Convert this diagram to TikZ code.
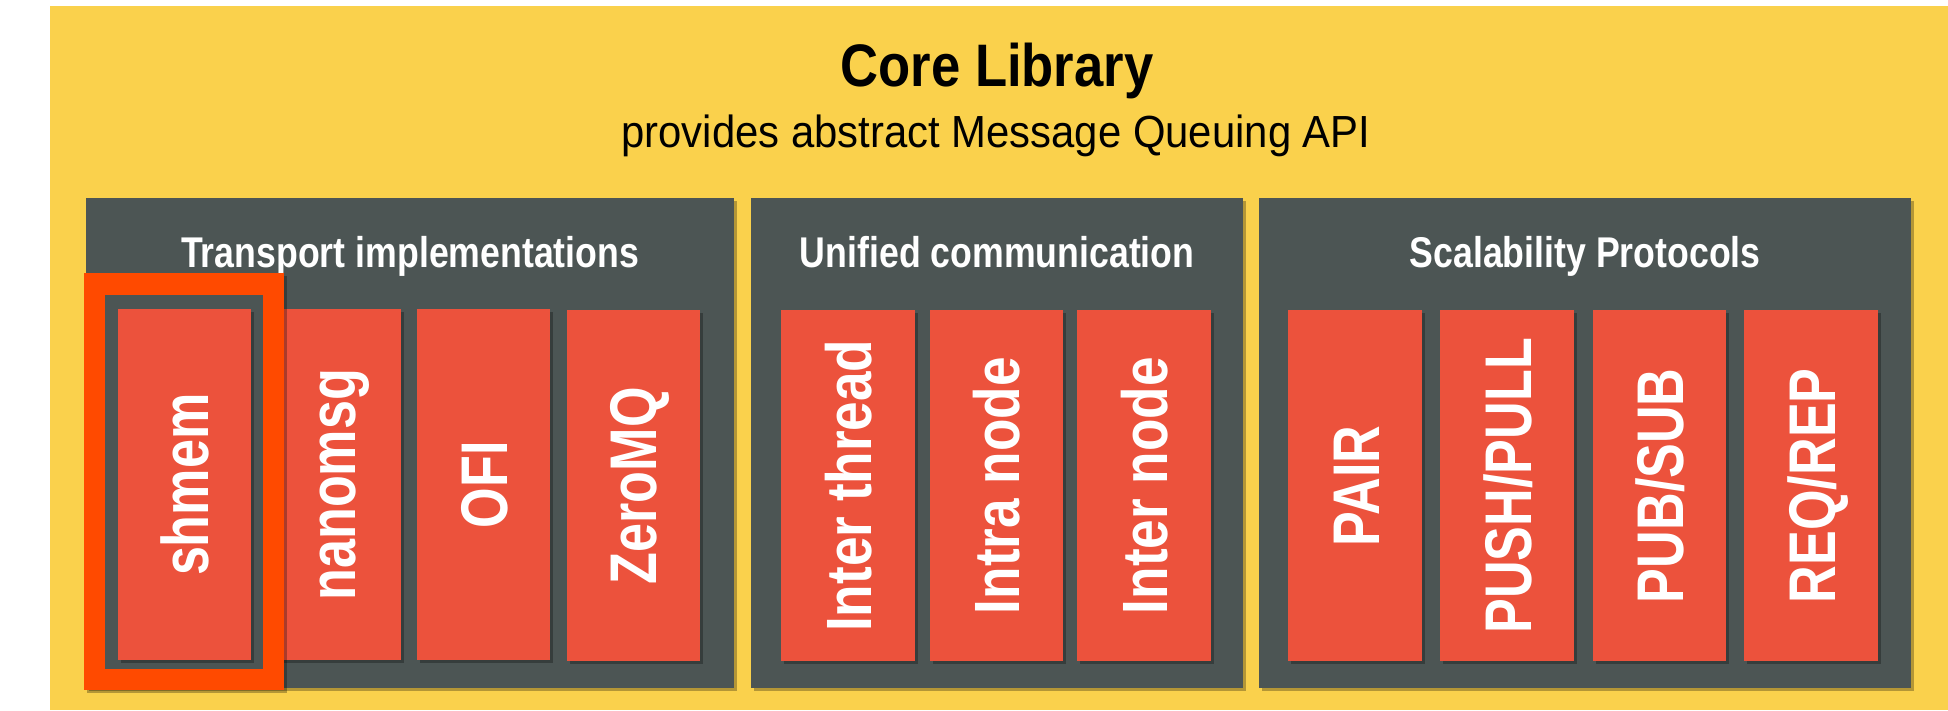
\documentclass[tikz,border=0pt]{standalone}
\usepackage{fontspec}
\usetikzlibrary{shadows}

% condensed sans faces for headings and labels
\newfontfamily\corefont[FakeStretch=0.877]{Liberation Sans}
\newfontfamily\headfont[FakeStretch=0.83]{Liberation Sans}
\newfontfamily\subfont[FakeStretch=0.93]{Liberation Sans}
\newfontfamily\itemfont[FakeStretch=0.79]{Liberation Sans}
\newfontfamily\itemfontb[FakeStretch=0.83]{Liberation Sans}

\definecolor{libyellow}{HTML}{FAD14C}
\definecolor{paneldark}{HTML}{4C5554}
\definecolor{itemred}{HTML}{EC523C}
\definecolor{hilite}{HTML}{FF4A00}

\tikzset{
  softshadow/.style={drop shadow={shadow xshift=3pt, shadow yshift=-3pt, opacity=0.28, fill=black}},
  panel/.style={fill=paneldark, draw=none, inner sep=0pt, anchor=north west,
                minimum height=490pt, softshadow},
  itembox/.style={fill=itemred, draw=none, inner sep=0pt, anchor=north west,
                  minimum width=133pt, minimum height=351pt, softshadow},
  paneltitle/.style={text=white, anchor=base, inner sep=0pt,
                     font=\headfont\bfseries\fontsize{43}{50}\selectfont},
  vlabel/.style={text=white, anchor=base, rotate=90, inner sep=0pt,
                 font=\itemfont\bfseries\fontsize{66}{70}\selectfont},
  vlabelb/.style={text=white, anchor=base, rotate=90, inner sep=0pt,
                  font=\itemfontb\bfseries\fontsize{64}{70}\selectfont},
}

\begin{document}
\begin{tikzpicture}[x=1pt, y=-1pt]
  \useasboundingbox (0,0) rectangle (1948,710);
  \fill[white] (0,0) rectangle (1948,710);

  % outer library block
  \node[fill=libyellow, draw=none, inner sep=0pt, anchor=north west,
        minimum width=1898pt, minimum height=704pt] (core) at (50,6) {};
  \node[anchor=base, inner sep=0pt, font=\corefont\bfseries\fontsize{60}{70}\selectfont]
        (coretitle) at (997,86) {Core Library};
  \node[anchor=base, inner sep=0pt, font=\subfont\fontsize{45}{52}\selectfont]
        (coresub) at (996,147) {provides abstract Message Queuing API};

  % three groups
  \node[panel, minimum width=648pt] (tp) at (86,198) {};
  \node[panel, minimum width=492pt] (uc) at (751,198) {};
  \node[panel, minimum width=652pt] (sp) at (1259,198) {};

  \node[paneltitle] (tptitle) at ([yshift=-69pt]tp.north) {Transport implementations};
  \node[paneltitle] (uctitle) at ([yshift=-69pt]uc.north) {Unified communication};
  \node[paneltitle] (sptitle) at ([yshift=-69pt]sp.north) {Scalability Protocols};

  % transport implementations
  \node[itembox] (nano) at (268,309) {};
  \node[itembox] (ofi)  at (417,309) {};
  \node[itembox] (zmq)  at (567,310) {};

  % highlighted shmem transport
  \node[fill=hilite, draw=none, inner sep=0pt, anchor=north west,
        minimum width=200pt, minimum height=417pt, softshadow] (hl) at (84,273) {};
  \node[fill=paneldark, draw=none, inner sep=0pt, anchor=north west,
        minimum width=158pt, minimum height=374pt] (hlin) at (105,295) {};
  \node[itembox] (shm) at (118,309) {};

  \node[vlabel] at ([xshift=23.5pt]shm.center)  {shmem};
  \node[vlabel] at ([xshift=21pt]nano.center)   {nanomsg};
  \node[vlabel] at ([xshift=23.5pt]ofi.center)  {OFI};
  \node[vlabel] at ([xshift=22.5pt]zmq.center)  {ZeroMQ};

  % unified communication
  \node[itembox, minimum width=134pt] (ith) at (781,310) {};
  \node[itembox, minimum width=133pt] (ina) at (930,310) {};
  \node[itembox, minimum width=134pt] (ine) at (1077,310) {};

  \node[vlabelb] at ([xshift=23pt]ith.center) {Inter thread};
  \node[vlabelb] at ([xshift=23pt]ina.center) {Intra node};
  \node[vlabelb] at ([xshift=23pt]ine.center) {Inter node};

  % scalability protocols
  \node[itembox, minimum width=134pt] (pair) at (1288,310) {};
  \node[itembox, minimum width=134pt] (push) at (1440,310) {};
  \node[itembox, minimum width=133pt] (pub)  at (1593,310) {};
  \node[itembox, minimum width=134pt] (req)  at (1744,310) {};

  \node[vlabel] at ([xshift=24pt]pair.center) {PAIR};
  \node[vlabel] at ([xshift=24pt]push.center) {PUSH/PULL};
  \node[vlabel] at ([xshift=24pt]pub.center)  {PUB/SUB};
  \node[vlabel] at ([xshift=24pt]req.center)  {REQ/REP};
\end{tikzpicture}
\end{document}
